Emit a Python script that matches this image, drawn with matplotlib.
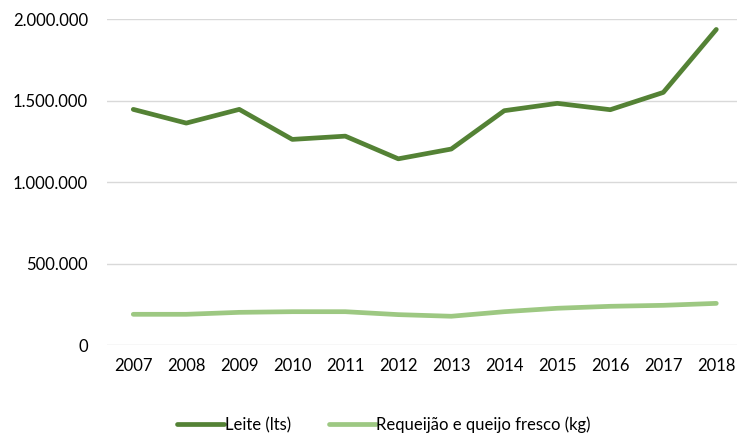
import matplotlib
matplotlib.use("Agg")
import matplotlib.pyplot as plt
from matplotlib.ticker import FuncFormatter

plt.rcParams['font.family'] = ['Lato', 'DejaVu Sans']

anos = ['2007', '2008', '2009', '2010', '2011', '2012',
        '2013', '2014', '2015', '2016', '2017', '2018']
leite = [1446000, 1362000, 1446000, 1262000, 1282000, 1143000,
         1203000, 1438000, 1483000, 1444000, 1550000, 1936000]
requeijao = [190000, 190000, 202000, 206000, 206000, 188000,
             178000, 206000, 227000, 239000, 245000, 257000]

fig = plt.figure(figsize=(7.37, 4.37), dpi=100)
ax = fig.add_axes([107.3 / 737, 1 - 345.3 / 437, (737 - 107.3) / 737, (345.3 - 19) / 437])

x = list(range(len(anos)))
ax.plot(x, leite, color='#548235', lw=3.4, solid_capstyle='round', label='Leite (lts)')
ax.plot(x, requeijao, color='#9DC882', lw=3.4, solid_capstyle='round',
        label='Requeijão e queijo fresco (kg)')

ax.set_ylim(0, 2000000)
ax.set_yticks([0, 500000, 1000000, 1500000, 2000000])
ax.yaxis.set_major_formatter(FuncFormatter(lambda v, p: f'{int(v):,}'.replace(',', '.')))
ax.set_xticks(x)
ax.set_xticklabels(anos)
ax.set_xlim(-0.49, (737 - 133.3) / 53)

ax.grid(axis='y', color='#D9D9D9', lw=1)
ax.set_axisbelow(True)
for s in ax.spines.values():
    s.set_visible(False)
ax.tick_params(axis='both', length=0, labelsize=12, colors='#000000')
ax.tick_params(axis='y', pad=14)
ax.tick_params(axis='x', pad=9)

fig.legend(loc='center', bbox_to_anchor=(384 / 737, 1 - 425 / 437), ncol=2,
           frameon=False, fontsize=12, handlelength=2.8, handletextpad=0.05,
           columnspacing=2.3)

fig.savefig('out.png', dpi=100)
